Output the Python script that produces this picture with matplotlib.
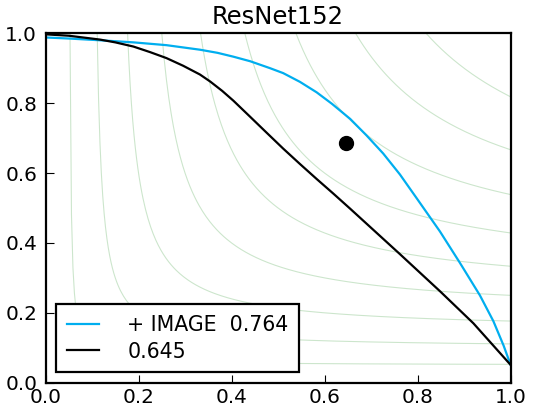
import numpy as np
import matplotlib
matplotlib.use('Agg')
import matplotlib.pyplot as plt

# recall (x) / precision (y)
recall_img = [0.0, 0.05, 0.117, 0.189, 0.26, 0.332, 0.37, 0.404, 0.44, 0.483,
              0.511, 0.547, 0.583, 0.616, 0.655, 0.69, 0.726, 0.762, 0.798,
              0.848, 0.891, 0.934, 0.963, 0.985, 1.0]
precision_img = [0.988, 0.985, 0.980, 0.974, 0.966, 0.953, 0.944, 0.933, 0.920,
                 0.900, 0.886, 0.861, 0.831, 0.798, 0.755, 0.708, 0.656, 0.596,
                 0.528, 0.433, 0.343, 0.250, 0.176, 0.106, 0.051]

recall_base = [0.0, 0.05, 0.117, 0.15, 0.189, 0.225, 0.26, 0.296, 0.332, 0.354,
               0.38, 0.404, 0.44, 0.475, 0.511, 0.547, 0.583, 0.619, 0.655,
               0.762, 0.848, 0.92, 1.0]
precision_base = [0.997, 0.993, 0.982, 0.974, 0.962, 0.946, 0.929, 0.907, 0.882,
                  0.862, 0.835, 0.807, 0.761, 0.716, 0.670, 0.626, 0.583, 0.541,
                  0.498, 0.368, 0.262, 0.170, 0.051]

point_recall = [0.646]
point_precision = [0.687]

labels = ['+ IMAGE  0.764', '0.645']
f_scores = [0.1, 0.2, 0.3, 0.4, 0.5, 0.6, 0.7, 0.8, 0.9]
title = 'ResNet152'

fig = plt.figure(figsize=(5.33, 4.16), dpi=100)
ax = fig.add_subplot(111)
fig.subplots_adjust(left=0.0854, right=0.958, top=0.920, bottom=0.080)

# iso-F1 guide curves
for f in f_scores:
    r = np.linspace(f / (2 - f), 1.0, 300)
    p = f * r / (2 * r - f)
    ax.plot(r, p, color='green', alpha=0.2, lw=0.8)

ax.plot(recall_img, precision_img, color='#00AEEF', lw=1.6, label=labels[0])
ax.plot(recall_base, precision_base, color='black', lw=1.6, label=labels[1])
ax.plot(point_recall, point_precision, 'o', color='black', markersize=10)

ax.set_xlim(0, 1)
ax.set_ylim(0, 1)
ax.set_xticks([0.0, 0.2, 0.4, 0.6, 0.8, 1.0])
ax.set_yticks([0.0, 0.2, 0.4, 0.6, 0.8, 1.0])
ax.tick_params(direction='in', length=6, width=0.8, labelsize=14.4,
               top=False, right=False)
ax.tick_params(axis='x', pad=4)
ax.tick_params(axis='y', pad=6)
for s in ax.spines.values():
    s.set_linewidth(1.6)

ax.set_title(title, fontsize=17.5, pad=7)

leg = ax.legend(loc='lower left', fontsize=14.8, fancybox=False,
                edgecolor='black', framealpha=1, borderaxespad=0.53,
                handlelength=1.55, handletextpad=1.4, borderpad=0.5,
                labelspacing=0.33)
leg.get_frame().set_linewidth(1.6)

plt.savefig('out.png', dpi=100)
